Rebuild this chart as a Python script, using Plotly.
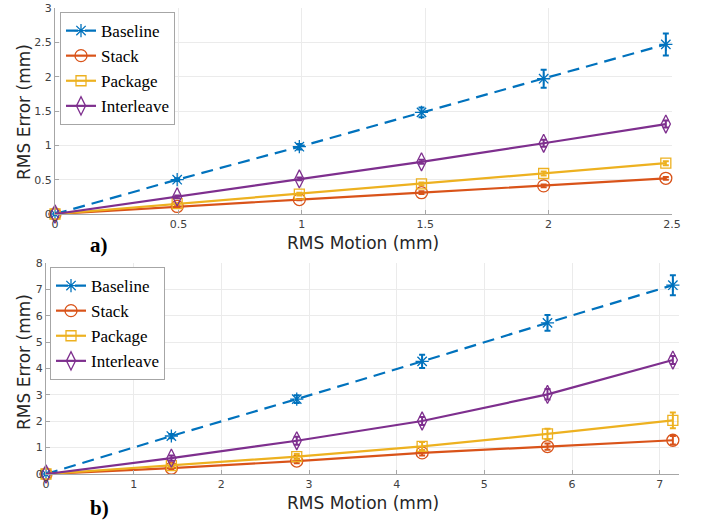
import plotly.graph_objects as go

# ---------------- data ----------------
series = ["Baseline", "Stack", "Package", "Interleave"]

# panel a)
motion_a = [0, 0.495, 0.99, 1.485, 1.98, 2.475]
baseline_a = [0, 0.50, 0.98, 1.48, 1.97, 2.47]
stack_a = [0, 0.11, 0.21, 0.31, 0.41, 0.52]
package_a = [0, 0.15, 0.29, 0.44, 0.59, 0.74]
interleave_a = [0, 0.25, 0.51, 0.76, 1.03, 1.31]
baseline_a_err = [0, 0.02, 0.04, 0.07, 0.13, 0.16]
stack_a_err = [0, 0.01, 0.01, 0.02, 0.02, 0.02]
package_a_err = [0, 0.01, 0.02, 0.02, 0.03, 0.03]
interleave_a_err = [0, 0.02, 0.02, 0.03, 0.05, 0.05]

# panel b)
motion_b = [0, 1.43, 2.86, 4.29, 5.72, 7.15]
baseline_b = [0, 1.44, 2.84, 4.27, 5.73, 7.16]
stack_b = [0, 0.22, 0.49, 0.80, 1.04, 1.28]
package_b = [0, 0.32, 0.66, 1.05, 1.52, 2.03]
interleave_b = [0, 0.60, 1.26, 2.01, 3.02, 4.32]
baseline_b_err = [0, 0.08, 0.15, 0.25, 0.30, 0.38]
stack_b_err = [0, 0.05, 0.08, 0.10, 0.12, 0.16]
package_b_err = [0, 0.06, 0.10, 0.16, 0.20, 0.30]
interleave_b_err = [0, 0.10, 0.15, 0.15, 0.20, 0.15]

x_ticks_a = [0, 0.5, 1, 1.5, 2, 2.5]
x_tick_text_a = ["0", "0.5", "1", "1.5", "2", "2.5"]
y_ticks_a = [0, 0.5, 1, 1.5, 2, 2.5, 3]
y_tick_text_a = ["0", "0.5", "1", "1.5", "2", "2.5", "3"]
x_ticks_b = [0, 1, 2, 3, 4, 5, 6, 7]
y_ticks_b = [0, 1, 2, 3, 4, 5, 6, 7, 8]

# ---------------- styles ----------------
colors = {"Baseline": "#0072BD", "Stack": "#D95319",
          "Package": "#EDB120", "Interleave": "#7E2F8E"}
symbols = {"Baseline": "asterisk-open", "Stack": "circle-open",
           "Package": "square-open", "Interleave": "diamond-tall-open"}
msize = {"Baseline": 11, "Stack": 12, "Package": 10, "Interleave": 13}

fig = go.Figure()

def add_panel(xs, ys_list, errs_list, xref, yref, legend):
    for name, ys, errs in zip(series, ys_list, errs_list):
        c = colors[name]
        fig.add_trace(go.Scatter(
            x=xs, y=ys, name=name, mode="lines+markers",
            xaxis=xref, yaxis=yref, legend=legend,
            line=dict(color=c, width=2.2,
                      dash="12px,7px" if name == "Baseline" else "solid"),
            marker=dict(symbol=symbols[name], size=msize[name],
                        color=c, line=dict(color=c, width=1.3)),
            error_y=dict(type="data", array=errs, visible=True,
                         color=c, thickness=2, width=3),
            cliponaxis=False,
        ))

add_panel(motion_a, [baseline_a, stack_a, package_a, interleave_a],
          [baseline_a_err, stack_a_err, package_a_err, interleave_a_err],
          "x", "y", "legend")
add_panel(motion_b, [baseline_b, stack_b, package_b, interleave_b],
          [baseline_b_err, stack_b_err, package_b_err, interleave_b_err],
          "x2", "y2", "legend2")

W, H = 702, 520
axis_common = dict(showgrid=True, gridcolor="#ebebeb", gridwidth=1,
                   showline=True, linecolor="#a6a6a6", linewidth=1,
                   ticks="inside", ticklen=4, tickcolor="#a6a6a6",
                   zeroline=False, automargin=False,
                   tickfont=dict(family="DejaVu Sans", size=11, color="#404040"))

legend_common = dict(bgcolor="white", bordercolor="#a6a6a6", borderwidth=1,
                     font=dict(family="Liberation Serif", size=17, color="#000000"),
                     itemwidth=30, tracegroupgap=0, xanchor="left", yanchor="top")

fig.update_layout(
    template="none",
    width=W, height=H,
    margin=dict(l=0, r=0, t=0, b=0, autoexpand=False),
    plot_bgcolor="white", paper_bgcolor="white",
    showlegend=True,
    xaxis=dict(domain=[55 / W, 672 / W], range=[0, 2.5], anchor="y",
               tickvals=x_ticks_a, ticktext=x_tick_text_a, **axis_common),
    yaxis=dict(domain=[1 - 214 / H, 1 - 8 / H], range=[0, 3], anchor="x",
               tickvals=y_ticks_a, ticktext=y_tick_text_a, **axis_common),
    xaxis2=dict(domain=[46 / W, 679 / W], range=[0, 7.22], anchor="y2",
                tickvals=x_ticks_b, **axis_common),
    yaxis2=dict(domain=[1 - 474 / H, 1 - 263 / H], range=[0, 8], anchor="x2",
                tickvals=y_ticks_b, **axis_common),
    legend=dict(x=60 / W, y=1 - 12 / H, **legend_common),
    legend2=dict(x=50 / W, y=1 - 267 / H, **legend_common),
)

title_font = dict(family="DejaVu Sans", size=17, color="#262626")
label_font = dict(family="Liberation Serif", size=21, color="#000000")
annots = [
    dict(text="RMS Motion (mm)", x=363 / W, y=1 - 243 / H, font=title_font),
    dict(text="RMS Motion (mm)", x=363 / W, y=1 - 503 / H, font=title_font),
    dict(text="RMS Error (mm)", x=24 / W, y=1 - 112 / H, font=title_font, textangle=-90),
    dict(text="RMS Error (mm)", x=24 / W, y=1 - 362 / H, font=title_font, textangle=-90),
    dict(text="<b>a)</b>", x=99 / W, y=1 - 245 / H, font=label_font),
    dict(text="<b>b)</b>", x=99 / W, y=1 - 508 / H, font=label_font),
]
for a in annots:
    fig.add_annotation(xref="paper", yref="paper", showarrow=False,
                       xanchor="center", yanchor="middle", **a)

fig.write_html(
    "out.html",
    config={"displayModeBar": False},
    post_script="document.body.style.margin='0px';document.body.style.overflow='hidden';",
)
